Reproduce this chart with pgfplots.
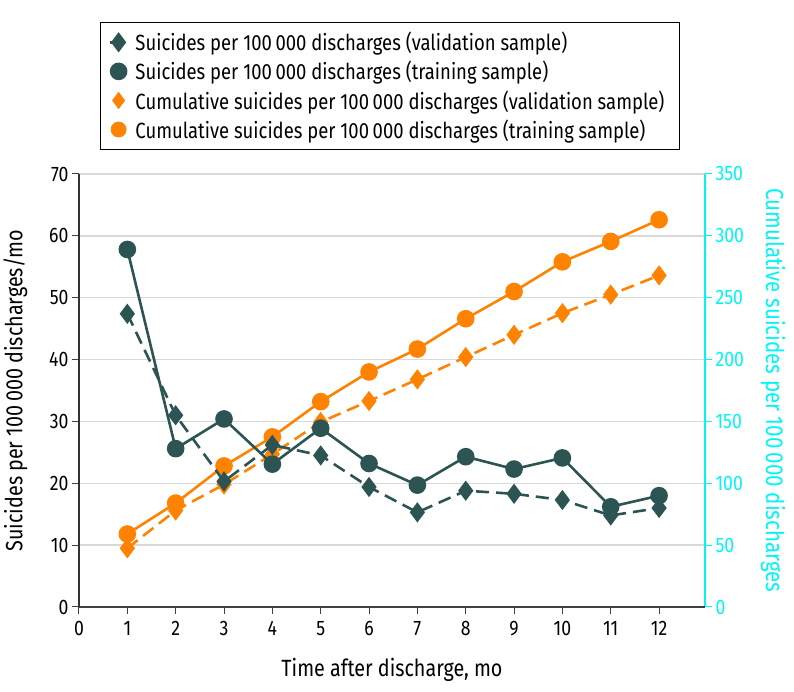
\documentclass[border=0pt]{standalone}
\usepackage{pgfplots}
\pgfplotsset{compat=1.18}
\usepackage{pgfplotstable}
\usepackage{fontspec}
\setmainfont{Fira Sans}[FakeStretch=0.84]

\definecolor{teal}{HTML}{2B5452}
\definecolor{orng}{HTML}{FF8200}
\definecolor{cyn}{HTML}{00F5F5}
\definecolor{grd}{HTML}{D9D9D9}

% month, training, validation, cumulative training, cumulative validation
\pgfplotstableread{
m  tr   va   ctr    cva
1  57.8 47.4 59.0   47.5
2  25.6 31.0 84.0   78.0
3  30.4 20.3 114.0  99.0
4  23.1 26.2 137.5  123.5
5  28.9 24.5 166.0  149.5
6  23.2 19.4 190.0  166.5
7  19.7 15.3 208.5  184.0
8  24.3 18.8 233.0  202.0
9  22.3 18.3 255.0  220.0
10 24.1 17.3 279.0  237.5
11 16.2 14.8 295.5  252.5
12 18.0 16.0 313.0  268.0
}\data

\begin{document}
\begin{tikzpicture}[font=\fontsize{21}{25}\selectfont]
\pgfplotsset{
  every axis/.append style={
    scale only axis, width=626pt, height=433pt,
    xmin=0, xmax=12.95,
    /pgf/number format/assume math mode=true,
    tick style={line width=1pt},
    major tick length=7pt,
    tick label style={font=\fontsize{21}{25}\selectfont},
    label style={font=\fontsize{23.5}{28}\selectfont},
  },
}
% right axis, cumulative series, drawn first
\begin{axis}[
  ymin=0, ymax=350,
  axis x line=none,
  axis y line*=right,
  y axis line style={cyn, line width=1.3pt},
  ytick={0,50,...,350},
  yticklabel style={cyn},
  y tick style={cyn},
  ymajorgrids,
  grid style={grd, line width=1.5pt},
  ylabel={Cumulative suicides per 100\,000 discharges},
  ylabel style={cyn, rotate=180, yshift=10pt, font=\fontsize{24.5}{28}\selectfont},
  tick align=outside,
]
\addplot[orng, line width=2.6pt, dash pattern=on 13pt off 7pt, mark=diamond*, mark size=8pt, mark options={solid}] table[x=m, y=cva] {\data};
\addplot[orng, line width=2.6pt, mark=*, mark size=7.5pt] table[x=m, y=ctr] {\data};
\end{axis}
% left axis, monthly series
\begin{axis}[
  name=ax,
  ymin=0, ymax=70,
  axis x line*=bottom,
  axis y line*=left,
  x axis line style={black!75, line width=1.3pt},
  y axis line style={black!80, line width=1.3pt},
  tick style={black!75},
  xtick={0,...,12},
  ytick={0,10,...,70},
  tick align=outside,
  xticklabel style={yshift=-4pt},
  xlabel={Time after discharge, mo},
  ylabel={Suicides per 100\,000 discharges/mo},
  xlabel style={yshift=-15pt},
  ylabel style={yshift=15pt},
  legend style={
    at={(0.497,1)}, anchor=south, yshift=24pt,
    draw=black, line width=0.8pt, fill=white,
    cells={anchor=west}, row sep=5pt,
    inner xsep=8pt, inner ysep=8pt,
    nodes={inner xsep=7pt},
    font=\fontsize{22}{26}\selectfont,
  },
  legend cell align=left,
]
\addplot[teal, line width=2.6pt, dash pattern=on 13pt off 7pt, mark=diamond*, mark size=8pt, mark options={solid}] table[x=m, y=va] {\data};
\addplot[teal, line width=2.6pt, mark=*, mark size=7.5pt] table[x=m, y=tr] {\data};
\addlegendentry{Suicides per 100\,000 discharges (validation sample)}
\addlegendentry{Suicides per 100\,000 discharges (training sample)}
\addlegendimage{only marks, orng, mark=diamond*, mark size=8pt}
\addlegendentry{Cumulative suicides per 100\,000 discharges (validation sample)}
\addlegendimage{only marks, orng, mark=*, mark size=7.5pt}
\addlegendentry{Cumulative suicides per 100\,000 discharges (training sample)}
\end{axis}
\pgfresetboundingbox
\path ([xshift=-79pt,yshift=-85pt]ax.south west) rectangle ([xshift=89pt,yshift=174pt]ax.north east);
\end{tikzpicture}
\end{document}
